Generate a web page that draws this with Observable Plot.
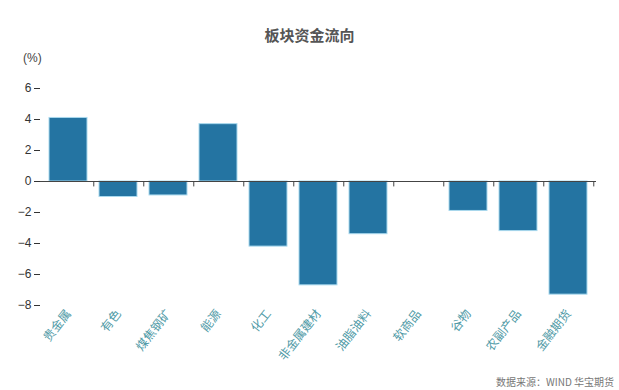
<!DOCTYPE html>
<html>
<head>
<meta charset="utf-8">
<script src="https://cdn.jsdelivr.net/npm/d3@7"></script>
<script src="https://cdn.jsdelivr.net/npm/@observablehq/plot@0.6"></script>
<style>
  html, body { margin: 0; padding: 0; background: #fff; }
  #wrap { position: relative; width: 619px; height: 390px; overflow: hidden; font-family: "Noto Sans CJK SC", "Noto Sans", sans-serif; }
  #title { position: absolute; left: 0; width: 619px; top: 24px; text-align: center; font-size: 15px; font-weight: bold; color: #555; }
  #unit { position: absolute; left: 23px; top: 51px; font-size: 12px; color: #444; font-family: "Liberation Sans", Arial, sans-serif; }
  #caption { position: absolute; right: 5px; top: 374px; font-size: 10px; color: #777; }
  #chart { position: absolute; left: 0; top: 0; }
</style>
</head>
<body>
<div id="wrap">
  <div id="chart"></div>
  <div id="title">板块资金流向</div>
  <div id="unit">(%)</div>
  <div id="caption">数据来源：WIND 华宝期货</div>
</div>
<script>
const categories = ["贵金属", "有色", "煤焦钢矿", "能源", "化工", "非金属建材", "油脂油料", "软商品", "谷物", "农副产品", "金融期货"];
const values = [4.1, -1.0, -0.9, 3.7, -4.2, -6.7, -3.4, 0, -1.9, -3.2, -7.3];
const yTicks = [-8, -6, -4, -2, 0, 2, 4, 6];

const data = categories.map((c, i) => ({category: c, value: values[i]}));

const W = 619, H = 390, mL = 40, mR = 23, mT = 88, mB = 85;
const step = (W - mL - mR) / categories.length;

const chart = Plot.plot({
  width: W,
  height: H,
  marginLeft: mL,
  marginRight: mR,
  marginTop: mT,
  marginBottom: mB,
  style: {fontFamily: "'Liberation Sans', Arial, sans-serif", fontSize: "12px", background: "transparent"},
  x: {domain: categories, paddingInner: 0.25, paddingOuter: 0.125, label: null},
  y: {domain: [-8, 6], label: null},
  marks: [
    Plot.barY(data, {x: "category", y: "value", fill: "#2474a2", stroke: "#a9d9ee", strokeWidth: 1}),
    Plot.ruleY([0], {stroke: "#444", strokeWidth: 1}),
    Plot.ruleX(categories, {x: d => d, y1: 0, y2: -0.35, dx: step / 2, stroke: "#444"}),
    Plot.axisY({ticks: yTicks, tickSize: 6, tickPadding: 3, color: "#333", label: null}),
    Plot.ruleX([0], {frameAnchor: "left", stroke: "#333"}),
    Plot.axisX({
      tickSize: 0,
      tickRotate: -52,
      tickPadding: 6,
      fill: "#4f9aa6",
      fontFamily: "'Noto Sans CJK SC', sans-serif",
      fontSize: 12,
      label: null
    })
  ]
});
document.getElementById("chart").appendChild(chart);
</script>
</body>
</html>
